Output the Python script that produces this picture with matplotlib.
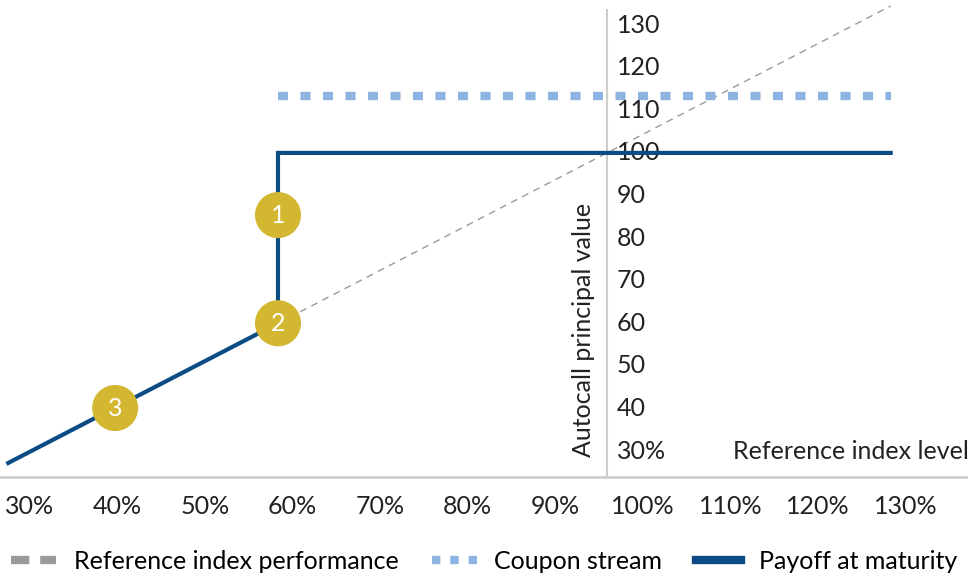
import matplotlib.pyplot as plt
from matplotlib.lines import Line2D

plt.rcParams['font.family'] = ['Lato', 'DejaVu Sans']

# reference index performance (dashed diagonal, y = x)
ref_x = [60, 134.5]
ref_y = [60, 134.5]

# coupon stream
coupon_x = [60, 134.5]
coupon_y = [113.4, 113.4]

# payoff at maturity
payoff_x = [27.2, 60, 60, 134.5]
payoff_y = [27.2, 60, 100, 100]

# numbered call-outs
marker_x = [60, 60, 40.2]
marker_y = [85.4, 60, 40.1]
marker_lbl = ['1', '2', '3']

# axis labels
xtick_lbl = ['30%', '40%', '50%', '60%', '70%', '80%', '90%', '100%', '110%', '120%', '130%']
ytick_val = [130, 120, 110, 100, 90, 80, 70, 60, 50, 40, 30]
ytick_lbl = ['130', '120', '110', '100', '90', '80', '70', '60', '50', '40', '30%']

dark_blue = '#0b4c85'
light_blue = '#8db3e0'
grey = '#9a9a9a'
gold = '#d4b731'
axis_grey = '#cccccc'
txt = '#222222'
fs = 18

fig = plt.figure(figsize=(9.68, 5.75), dpi=100)
ax = fig.add_axes([0, 0.1704, 1, 0.8296])
ax.set_xlim(26.2, 143.9)
ax.set_ylim(23.9, 135.9)

ax.plot(ref_x, ref_y, color=grey, lw=1.0, dashes=(5, 4), zorder=2)
ax.plot(coupon_x, coupon_y, color=light_blue, lw=6, dashes=(1.2, 1.5),
        solid_capstyle='butt', dash_capstyle='butt', zorder=3)
ax.plot(payoff_x, payoff_y, color=dark_blue, lw=3, solid_joinstyle='miter', zorder=4)

ax.scatter(marker_x, marker_y, s=1100, color=gold, edgecolors='none', zorder=5)
for mx, my, t in zip(marker_x, marker_y, marker_lbl):
    ax.text(mx, my, t, color='white', fontsize=18, ha='center', va='center', zorder=6)

# spines
for s in ['top', 'right']:
    ax.spines[s].set_visible(False)
ax.spines['left'].set_position(('data', 100))
ax.spines['left'].set_bounds(23.9, 133.6)
ax.spines['left'].set_color(axis_grey)
ax.spines['left'].set_linewidth(1.5)
ax.spines['bottom'].set_color(axis_grey)
ax.spines['bottom'].set_linewidth(1.8)

ax.set_yticks([])
for v, t in zip(ytick_val, ytick_lbl):
    ax.text(101.2, v, t, fontsize=fs, color=txt, ha='left', va='center')

xtick_pos = [29.8 + 10.65 * i for i in range(len(xtick_lbl))]
ax.set_xticks(xtick_pos)
ax.set_xticklabels(xtick_lbl, fontsize=fs, color=txt)
ax.tick_params(axis='x', length=0, pad=13)

ax.text(115.3, 30, 'Reference index level', fontsize=fs, color=txt,
        ha='left', va='center')
ax.text(97.2, 58.5, 'Autocall principal value', fontsize=fs, color=txt,
        rotation=90, ha='center', va='center')

handles = [
    Line2D([], [], color=grey, lw=6, dashes=(2.2, 1.3)),
    Line2D([], [], color=light_blue, lw=6, dashes=(1, 1.2)),
    Line2D([], [], color=dark_blue, lw=6),
]
labels = ['Reference index performance', 'Coupon stream', 'Payoff at maturity']
fig.legend(handles, labels, loc='lower center', bbox_to_anchor=(0.5, -0.035), ncol=3,
           frameon=False, fontsize=fs, handlelength=1.8, handletextpad=0.7,
           columnspacing=1.35)

fig.savefig('out.png', dpi=100)
